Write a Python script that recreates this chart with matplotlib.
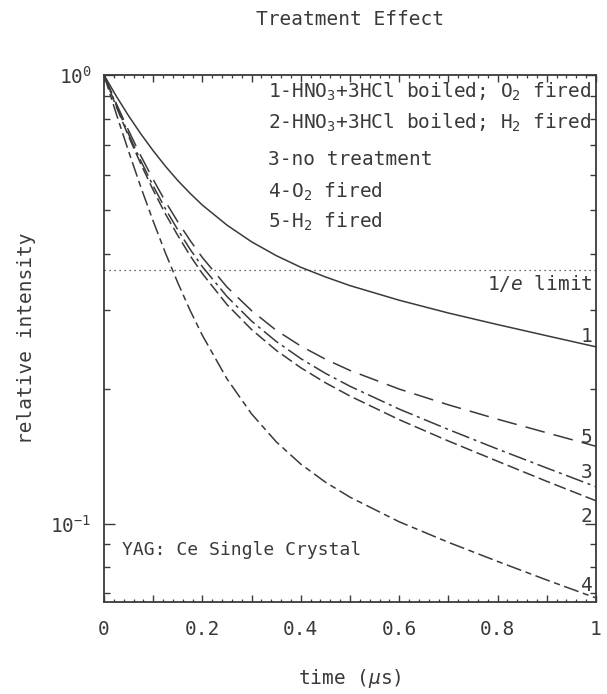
import numpy as np
import matplotlib
matplotlib.use("Agg")
import matplotlib.pyplot as plt
from matplotlib.ticker import FixedLocator, NullFormatter, FuncFormatter, LogLocator

plt.rcParams['font.family'] = ['DejaVu Sans Mono']
plt.rcParams['mathtext.fontset'] = 'custom'
plt.rcParams['mathtext.rm'] = 'DejaVu Sans Mono'
plt.rcParams['mathtext.it'] = 'DejaVu Sans Mono:italic'
plt.rcParams['mathtext.bf'] = 'DejaVu Sans Mono:bold'

# ---- data ----
time_us = [0, 0.025, 0.05, 0.075, 0.1, 0.125, 0.15, 0.175, 0.2, 0.25, 0.3, 0.35,
           0.4, 0.45, 0.5, 0.6, 0.7, 0.8, 0.9, 1.0]
curve1 = [1.0, 0.897, 0.811, 0.739, 0.678, 0.626, 0.582, 0.545, 0.513, 0.463, 0.425, 0.396,
          0.373, 0.355, 0.3395, 0.315, 0.295, 0.278, 0.2625, 0.248]
curve2 = [1.0, 0.850, 0.730, 0.633, 0.554, 0.490, 0.439, 0.396, 0.361, 0.308, 0.271, 0.2436,
          0.2228, 0.2063, 0.1927, 0.1707, 0.153, 0.1379, 0.1244, 0.1126]
curve3 = [1.0, 0.855, 0.738, 0.643, 0.566, 0.503, 0.452, 0.409, 0.374, 0.321, 0.283, 0.255,
          0.2335, 0.2165, 0.2026, 0.1802, 0.1623, 0.1468, 0.1332, 0.121]
curve4 = [1.0, 0.819, 0.676, 0.562, 0.4725, 0.401, 0.3445, 0.299, 0.263, 0.2104, 0.1758, 0.1524,
          0.1359, 0.1239, 0.1147, 0.1011, 0.091, 0.0825, 0.075, 0.0684]
curve5 = [1.0, 0.864, 0.752, 0.660, 0.585, 0.522, 0.471, 0.428, 0.392, 0.337, 0.2985, 0.270,
          0.249, 0.2328, 0.2197, 0.1997, 0.1842, 0.1711, 0.1596, 0.1489]

legend_lines = [
    "1-HNO$_3$+3HCl boiled; O$_2$ fired",
    "2-HNO$_3$+3HCl boiled; H$_2$ fired",
    "3-no treatment",
    "4-O$_2$ fired",
    "5-H$_2$ fired",
]
curve_labels = ["1", "5", "3", "2", "4"]
curve_label_y = [0.261, 0.156, 0.130, 0.1037, 0.0731]
x_ticks = [0, 0.2, 0.4, 0.6, 0.8, 1.0]
x_tick_labels = ["0", "0.2", "0.4", "0.6", "0.8", "1"]
inv_e = 1 / np.e

ink = '#3a3a3a'
fig = plt.figure(figsize=(6.07, 6.94), dpi=100)
ax = fig.add_axes([104/607, 1-602/694, (596-104)/607, (602-75)/694])

styles = {
    'c1': dict(ls='-'),
    'c2': dict(ls=(0, (8, 3))),
    'c3': dict(ls=(0, (12, 3, 2, 3))),
    'c4': dict(ls=(0, (10, 3, 4, 3))),
    'c5': dict(ls=(0, (13, 6))),
}
for key, data in [('c1', curve1), ('c2', curve2), ('c3', curve3), ('c4', curve4), ('c5', curve5)]:
    ax.plot(time_us, data, color=ink, lw=1.1, **styles[key])

ax.axhline(inv_e, color=ink, lw=0.9, ls=(0, (1, 3)))

ax.set_yscale('log')
ax.set_xlim(0, 1)
ax.set_ylim(0.067, 1.0)

# y ticks
ax.yaxis.set_major_locator(FixedLocator([0.1, 1.0]))
ax.yaxis.set_major_formatter(FuncFormatter(lambda v, p: r'$10^{0}$' if v >= 1 else r'$10^{-1}$'))
ax.yaxis.set_minor_locator(LogLocator(base=10, subs=np.arange(2, 10)))
ax.yaxis.set_minor_formatter(NullFormatter())

# x ticks
def xfmt(v, p):
    r = round(v, 1)
    if r in x_ticks and round(v * 10) % 2 == 0:
        return x_tick_labels[x_ticks.index(r)]
    return ''
ax.xaxis.set_major_locator(FixedLocator(np.round(np.arange(0, 1.01, 0.1), 2)))
ax.xaxis.set_major_formatter(FuncFormatter(xfmt))
ax.xaxis.set_minor_locator(FixedLocator(np.round(np.arange(0, 1.001, 0.02), 2)))

ax.tick_params(which='both', direction='in', top=True, right=True, colors=ink,
               labelcolor=ink, labelsize=14)
ax.tick_params(axis='x', which='major', length=5, width=1, pad=13)
ax.tick_params(axis='x', which='minor', length=2.5, width=0.9)
ax.tick_params(axis='y', which='major', length=8, width=1, pad=9)
ax.tick_params(axis='y', which='minor', length=4.5, width=1)
for s in ax.spines.values():
    s.set_color(ink)
    s.set_linewidth(1.3)

# legend text
legend_y = [0.956, 0.898, 0.829, 0.768, 0.710]
for txt, yy in zip(legend_lines, legend_y):
    ax.text(0.333, yy, txt, transform=ax.transAxes, fontsize=14, color=ink,
            ha='left', va='baseline')

for lab, yy in zip(curve_labels, curve_label_y):
    ax.text(0.993, yy, lab, fontsize=14, color=ink, ha='right', va='center')

ax.text(0.993, 0.344, '1/$e$ limit', fontsize=14, color=ink, ha='right', va='center')
ax.text(0.037, 0.0875, 'YAG: Ce Single Crystal', fontsize=13, color=ink, ha='left', va='center')

ax.set_title('Treatment Effect', fontsize=14, color=ink, pad=36)
ax.set_xlabel(r'time ($\mu$s)', fontsize=14, color=ink, labelpad=20)
ax.set_ylabel('relative intensity', fontsize=14, color=ink, labelpad=10)

fig.savefig('out.png', dpi=100, facecolor='white')
